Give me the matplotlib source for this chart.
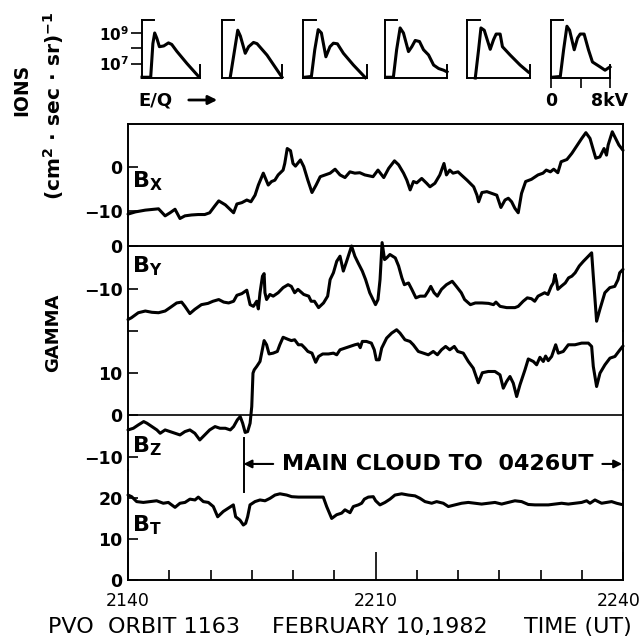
import numpy as np
import matplotlib
matplotlib.use('Agg')
import matplotlib.pyplot as plt
from matplotlib.ticker import NullLocator
from matplotlib.transforms import ScaledTranslation

plt.rcParams['font.family'] = 'DejaVu Sans'
plt.rcParams['mathtext.fontset'] = 'dejavusans'

# ── Campo magnético (gamma), minutos después de 2140 UT ──────────────────────
T_BX = [0.0, 0.9, 2.1, 3.7, 4.5, 5.1, 5.7, 6.3, 6.9, 7.7, 8.5, 9.3, 9.9, 10.5,
        11.0, 11.8, 12.8, 13.2, 13.8, 14.4, 14.9, 15.4, 15.8, 16.4, 17.0, 17.4,
        17.8, 18.2, 18.8, 19.0, 19.3, 19.7, 20.0, 20.3, 20.9, 21.3, 21.8, 22.3,
        22.8, 23.3, 23.9, 24.5, 25.1, 25.7, 26.3, 26.9, 27.5, 28.1, 28.7, 29.7,
        30.3, 31.0, 31.6, 32.3, 32.8, 33.4, 33.8, 34.2, 34.6, 35.0, 35.6, 36.2,
        36.6, 37.2, 37.8, 38.3, 38.6, 39.0, 39.4, 40.0, 40.4, 41.1, 41.9, 42.3,
        42.5, 42.9, 43.5, 44.1, 44.7, 45.2, 45.7, 46.1, 46.5, 46.9, 47.3, 47.7,
        48.2, 48.9, 49.7, 50.3, 50.7, 51.2, 51.6, 52.1, 52.5, 53.2, 53.8, 54.4,
        55.0, 55.5, 56.0, 56.4, 56.7, 57.2, 57.7, 58.0, 58.2, 58.7, 59.1, 59.5,
        60.0]
BX = [-10.7, -10.2, -9.8, -9.5, -11.1, -10.4, -9.6, -11.7, -11.1, -10.9, -10.8,
      -10.8, -10.4, -8.9, -7.7, -8.6, -10.4, -8.4, -8.1, -7.5, -7.9, -6.4, -4.1,
      -1.4, -4.1, -3.3, -3.0, -1.8, -0.7, 0.8, 4.2, 3.7, 0.8, 0.2, 1.6, 0.1,
      -3.0, -5.8, -4.1, -2.2, -1.8, -1.4, -0.5, -1.8, -2.4, -1.1, -1.4, -1.3,
      -1.8, -2.2, -0.7, -2.4, -0.3, 1.4, 0.5, -1.4, -3.0, -5.2, -3.3, -3.6,
      -2.6, -3.7, -4.5, -3.7, -1.8, 0.8, -1.8, -0.7, -1.4, -1.1, -1.8, -3.0,
      -4.5, -6.4, -7.9, -5.8, -5.6, -6.0, -6.4, -9.2, -7.5, -7.1, -7.9, -9.4,
      -10.4, -6.0, -3.3, -2.8, -1.8, -1.4, -0.7, -1.1, -0.5, -1.3, 1.2, 1.7,
      3.1, 4.8, 6.5, 7.8, 6.5, 3.9, 2.0, 2.3, 4.2, 2.7, 5.0, 8.0, 6.5, 5.0,
      3.8]

T_BY = [0.0, 0.4, 1.25, 2.1, 2.9, 3.7, 4.5, 5.1, 5.9, 6.5, 6.9, 7.5, 8.1, 8.9,
        9.7, 10.3, 11.0, 11.6, 12.2, 12.8, 13.2, 13.8, 14.4, 14.8, 15.2, 15.6,
        15.8, 16.0, 16.3, 16.5, 16.6, 16.8, 17.2, 17.6, 18.2, 18.8, 19.4, 19.8,
        20.2, 20.6, 21.3, 21.9, 22.2, 22.6, 23.1, 23.7, 24.2, 24.5, 24.9, 25.3,
        25.7, 26.1, 26.5, 27.1, 27.5, 27.9, 28.4, 28.8, 29.3, 29.7, 30.0, 30.3,
        30.55, 30.8, 31.1, 31.35, 31.75, 32.4, 32.8, 33.2, 33.5, 34.0, 34.4,
        34.9, 35.4, 36.0, 36.4, 36.7, 37.1, 37.5, 38.0, 38.6, 39.3, 39.8, 40.4,
        40.8, 41.5, 42.1, 42.9, 43.7, 44.3, 44.6, 45.1, 45.9, 46.9, 47.3, 47.9,
        48.4, 48.9, 49.3, 49.7, 50.1, 50.5, 50.9, 51.3, 51.55, 51.75, 51.95,
        52.1, 52.5, 53.0, 53.4, 53.8, 54.2, 54.7, 55.2, 55.8, 56.2, 56.4, 56.8,
        57.2, 57.8, 58.4, 59.0, 59.4, 59.6, 60.0]
BY = [-17.3, -16.9, -15.7, -15.3, -15.6, -15.7, -15.3, -14.5, -13.4, -13.2,
      -14.2, -15.9, -14.9, -13.8, -13.5, -13.0, -12.6, -13.2, -13.4, -13.0,
      -11.6, -11.2, -10.4, -13.8, -14.2, -13.0, -14.8, -11.0, -7.1, -6.5, -11.0,
      -12.6, -11.4, -11.8, -11.0, -9.8, -9.1, -9.5, -11.0, -10.2, -11.4, -11.8,
      -13.0, -13.0, -14.5, -13.4, -11.8, -7.9, -6.3, -3.6, -2.4, -5.9, -3.6,
      0.0, -2.4, -4.0, -5.9, -7.9, -11.0, -12.6, -13.8, -12.6, -7.9, 0.8, -3.2,
      -2.8, -2.0, -2.8, -4.7, -7.5, -9.1, -8.7, -10.2, -12.2, -11.8, -11.8,
      -10.6, -9.5, -11.0, -11.8, -10.2, -9.1, -8.3, -9.5, -11.0, -12.6, -13.8,
      -13.4, -13.4, -13.5, -13.8, -13.2, -14.2, -14.5, -14.5, -14.2, -13.0,
      -12.2, -12.4, -13.0, -11.8, -11.4, -11.0, -11.4, -9.5, -8.7, -6.7, -8.3,
      -10.2, -9.5, -8.7, -7.5, -7.1, -6.3, -4.7, -3.6, -2.4, -1.6, -7.1, -17.7,
      -14.9, -11.0, -9.8, -9.5, -7.9, -6.3, -5.5]

T_BZ = [0.0, 0.65, 1.25, 1.9, 2.3, 2.9, 3.5, 3.9, 4.5, 5.1, 5.7, 6.3, 6.9, 7.5,
        8.1, 8.7, 9.3, 9.9, 10.55, 11.15, 11.8, 12.4, 12.8, 13.25, 13.6, 13.9,
        14.2, 14.5, 14.8, 15.0, 15.15, 15.3, 15.6, 16.0, 16.2, 16.5, 16.8, 17.1,
        17.6, 18.1, 18.4, 18.8, 19.4, 19.8, 20.2, 20.65, 21.05, 21.45, 21.8,
        22.3, 22.75, 23.1, 23.6, 24.3, 24.9, 25.3, 25.7, 26.3, 26.9, 27.5, 27.9,
        28.15, 28.4, 28.9, 29.5, 29.85, 30.1, 30.45, 30.75, 31.35, 31.96, 32.56,
        32.97, 33.57, 34.18, 34.58, 35.19, 35.8, 36.4, 37.0, 37.5, 38.0, 38.5,
        39.0, 39.55, 39.96, 40.64, 41.25, 41.85, 42.46, 42.95, 43.67, 44.48,
        45.09, 45.49, 45.89, 46.3, 46.7, 47.11, 47.51, 48.12, 48.52, 49.13,
        49.53, 49.93, 50.34, 50.62, 50.94, 51.35, 51.84, 52.16, 52.76, 53.37,
        54.18, 54.99, 55.8, 56.2, 56.4, 56.8, 57.21, 57.81, 58.42, 59.02, 59.63,
        60.0]
BZ = [-3.6, -3.2, -2.4, -1.6, -2.0, -2.8, -3.6, -4.4, -3.6, -4.0, -4.4, -4.8,
      -4.0, -3.6, -4.4, -6.0, -4.8, -3.6, -2.8, -3.2, -3.2, -3.6, -2.8, -1.2,
      -0.4, -2.0, -4.2, -4.0, -2.0, 2.0, 10.0, 10.8, 11.6, 12.8, 14.8, 17.8,
      16.8, 14.6, 14.8, 15.2, 16.8, 18.6, 18.1, 17.8, 18.0, 16.8, 16.8, 16.0,
      15.2, 14.8, 12.6, 14.0, 14.6, 14.6, 14.8, 14.4, 15.6, 16.0, 16.4, 16.8,
      17.0, 16.1, 17.6, 17.6, 17.2, 15.6, 13.2, 13.2, 16.0, 18.4, 19.6, 20.4,
      19.6, 18.0, 17.6, 16.8, 15.2, 14.8, 14.4, 15.2, 14.4, 15.6, 16.4, 15.6,
      16.4, 15.2, 14.8, 12.8, 11.2, 7.7, 10.1, 10.4, 10.4, 9.6, 6.4, 8.0, 9.2,
      7.6, 4.4, 7.2, 10.8, 13.4, 12.8, 12.0, 13.8, 12.8, 14.1, 13.0, 14.0,
      16.8, 14.8, 15.2, 16.8, 16.8, 17.2, 17.2, 16.4, 11.6, 6.8, 10.0, 12.0,
      13.6, 14.0, 15.6, 16.5]

T_BT = [0.0, 0.44, 1.05, 1.86, 2.67, 3.47, 4.28, 4.89, 5.7, 6.3, 6.91, 7.51,
        8.12, 8.52, 9.13, 9.74, 10.34, 10.87, 11.55, 12.16, 12.77, 13.05,
        13.57, 13.98, 14.26, 14.5, 14.79, 15.39, 16.0, 16.61, 17.21, 17.82,
        18.42, 19.23, 19.84, 20.65, 21.45, 22.26, 23.07, 23.67, 24.08, 24.69,
        25.29, 25.9, 26.3, 26.91, 27.31, 27.92, 28.32, 28.65, 29.13, 29.73,
        30.02, 30.54, 31.15, 31.76, 32.36, 33.17, 33.98, 34.79, 35.39, 36.0,
        36.81, 37.41, 38.22, 38.83, 39.63, 40.44, 41.25, 42.06, 42.86, 43.67,
        44.48, 45.29, 46.09, 46.9, 47.71, 48.52, 49.33, 50.14, 50.95, 51.75,
        52.56, 53.37, 54.18, 54.99, 55.59, 56.0, 56.6, 57.0, 57.41, 58.01,
        58.62, 59.23, 59.83]
BT = [20.7, 20.3, 19.1, 18.9, 19.1, 19.3, 18.7, 18.9, 17.7, 18.7, 18.9, 19.7,
      19.5, 20.2, 19.1, 18.9, 17.9, 15.4, 16.7, 17.5, 18.3, 15.4, 14.6, 13.4,
      13.8, 15.4, 18.3, 19.1, 19.5, 19.3, 19.9, 20.7, 21.0, 20.7, 20.3, 20.2,
      20.2, 20.2, 20.2, 20.2, 17.9, 15.0, 15.9, 16.3, 17.1, 16.4, 17.9, 18.3,
      18.7, 19.7, 20.2, 20.3, 19.3, 18.3, 18.9, 19.7, 20.7, 21.0, 20.7, 20.5,
      19.9, 19.1, 18.7, 19.1, 18.7, 17.9, 18.3, 18.7, 18.9, 18.7, 18.5, 18.7,
      18.9, 18.5, 18.9, 19.3, 19.1, 18.4, 18.3, 18.3, 18.3, 18.5, 18.7, 18.5,
      18.7, 18.9, 19.3, 18.7, 19.5, 19.1, 18.7, 18.9, 19.1, 18.7, 18.4]

CLOUD_START = 14.0          # inicio de la nube (min después de 2140)
TIME_TICKS = [0, 30, 60]
TIME_LABELS = ['2140', '2210', '2240']

# ── Espectros de iones: E/Q (kV) y log10 del flujo ──────────────────────────
SPEC_E = [
    [0, 1.2, 1.5, 1.75, 2.05, 2.4, 3.0, 3.65, 4.1, 4.8, 6.2, 7.8],
    [1.1, 2.1, 2.45, 3.1, 3.55, 4.2, 4.67, 6.0, 8.0],
    [0.2, 1.05, 1.47, 1.9, 2.3, 2.86, 3.37, 3.8, 4.3, 5.05, 6.3, 7.8],
    [0.13, 1.08, 1.5, 1.95, 2.38, 3.03, 3.46, 3.9, 4.45, 4.97, 5.62, 6.27,
     6.92, 7.57, 8.0],
    [1.05, 1.47, 1.77, 2.19, 2.95, 3.37, 3.7, 4.21, 4.5, 5.47, 6.74, 7.79],
    [0.13, 1.26, 1.71, 2.16, 2.52, 3.15, 3.6, 3.96, 4.49, 5.08, 5.62, 6.65,
     7.33, 8.0],
]
SPEC_LOGF = [
    [6.1, 6.1, 8.3, 9.0, 8.65, 8.1, 8.15, 8.35, 8.25, 7.8, 7.0, 6.15],
    [6.1, 9.18, 8.8, 7.67, 8.1, 8.38, 8.3, 7.55, 6.1],
    [6.1, 6.15, 7.9, 9.22, 9.0, 7.44, 8.1, 8.33, 8.29, 7.67, 6.9, 6.07],
    [6.1, 6.1, 7.9, 9.33, 9.0, 7.78, 8.1, 8.51, 8.44, 7.9, 7.56, 6.9, 6.67,
     6.56, 6.45],
    [6.05, 7.9, 9.33, 9.18, 7.93, 8.56, 8.93, 8.93, 8.1, 7.56, 6.9, 6.44],
    [6.1, 6.15, 7.9, 9.44, 9.18, 7.9, 8.67, 8.93, 8.93, 7.9, 7.1, 6.78, 6.56,
     6.78],
]
SPEC_X = [(142, 200), (222, 282), (303, 367), (385, 447), (467, 530), (551, 610)]

W, H = 642, 641
LW_DATA = 2.2
LW_FRAME = 1.4

fig = plt.figure(figsize=(W / 100, H / 100), dpi=100)


def px_axes(x0, y0, x1, y1):
    """Crea ejes a partir de una caja en píxeles (origen arriba-izquierda)."""
    return fig.add_axes([x0 / W, 1 - y1 / H, (x1 - x0) / W, (y1 - y0) / H])


# ── Paneles del campo ────────────────────────────────────────────────────────
ax_bx = px_axes(128, 124, 623, 246)
ax_by = px_axes(128, 246, 623, 331)
ax_bz = px_axes(128, 331, 623, 470)
ax_bt = px_axes(128, 470, 623, 580)

panels = [
    (ax_bx, T_BX, BX, (-17.95, 9.77), [0, -10], ['0', '\u221210'],
     r'$\mathbf{B}_{\mathbf{X}}$', 0.48, ('top', 'bottom')),
    (ax_by, T_BY, BY, (-20, 0), [0, -10, -20], ['0', '\u221210', ''],
     r'$\mathbf{B}_{\mathbf{Y}}$', 0.69, ()),
    (ax_bz, T_BZ, BZ, (-13.2, 20.1), [10, 0, -10], ['10', '0', '\u221210'],
     r'$\mathbf{B}_{\mathbf{Z}}$', 0.13, ()),
    (ax_bt, T_BT, BT, (0, 26.8), [0, 10, 20], ['0', '10', '20'],
     r'$\mathbf{B}_{\mathbf{T}}$', 0.44, ('bottom',)),
]

for ax, t, b, ylim, yt, ytl, name, name_y, hspines in panels:
    ax.plot(t, b, color='k', lw=LW_DATA, solid_joinstyle='round',
            solid_capstyle='round', clip_on=False)
    ax.set_xlim(0, 60)
    ax.set_ylim(*ylim)
    ax.set_facecolor('none')
    for side in ('top', 'bottom'):
        ax.spines[side].set_visible(side in hspines)
    for sp in ax.spines.values():
        sp.set_linewidth(LW_FRAME)
    ax.set_yticks(yt, ytl)
    ax.tick_params(axis='y', direction='in', length=7, width=1.2,
                   labelsize=12.5, pad=4)
    for lab in ax.get_yticklabels():
        lab.set_fontweight('bold')
    ax.tick_params(axis='x', bottom=False, labelbottom=False)
    ax.text(0.008, name_y, name, transform=ax.transAxes, fontsize=16,
            va='baseline', ha='left')

ax_bz.axhline(0, color='k', lw=1.2)

# eje temporal
ax_bt.set_xticks(TIME_TICKS, TIME_LABELS)
ax_bt.set_xticks(np.arange(0, 61, 5), minor=True)
ax_bt.tick_params(axis='x', which='major', bottom=True, labelbottom=True,
                  direction='in', length=20, width=1.2, labelsize=12.5, pad=9)
ax_bt.tick_params(axis='x', which='minor', bottom=True, direction='in',
                  length=7, width=1.2)
last = ax_bt.get_xticklabels()[-1]
last.set_transform(last.get_transform()
                   + ScaledTranslation(-4 / 100, 0, fig.dpi_scale_trans))

# nube principal
ax_bz.axvline(CLOUD_START, ymin=0, ymax=0.23, color='k', lw=1.4)
ax_bt.axvline(CLOUD_START, ymin=0.8, ymax=1, color='k', lw=1.4)
y_arr = -11.75
ax_bz.text(37.6, y_arr, 'MAIN CLOUD TO  0426UT', ha='center', va='center',
           fontsize=16, fontweight='bold')
arrow = dict(arrowstyle='-|>', color='k', lw=1.5, mutation_scale=12,
             shrinkA=0, shrinkB=0)
ax_bz.annotate('', xy=(CLOUD_START, y_arr), xytext=(17.6, y_arr),
               arrowprops=arrow)
ax_bz.annotate('', xy=(59.9, y_arr), xytext=(57.5, y_arr), arrowprops=arrow)

# ── Espectros de iones ───────────────────────────────────────────────────────
for i, ((x0, x1), e, lf) in enumerate(zip(SPEC_X, SPEC_E, SPEC_LOGF)):
    ax = px_axes(x0, 20, x1, 78)
    ax.set_yscale('log')
    ax.plot(e, 10.0 ** np.array(lf), color='k', lw=2.2,
            solid_joinstyle='round', clip_on=False)
    ax.set_xlim(0, 8)
    ax.set_ylim(10 ** 6.05, 10 ** 9.85)
    ax.set_facecolor('none')
    ax.spines['top'].set_visible(False)
    ax.spines['right'].set_visible(False)
    ax.spines['left'].set_linewidth(LW_FRAME)
    ax.spines['bottom'].set_linewidth(LW_FRAME)
    ax.axhline(10 ** 9.85, xmin=0, xmax=0.2, color='k', lw=LW_FRAME,
               clip_on=False)
    ax.axvline(8, ymin=0, ymax=0.22, color='k', lw=LW_FRAME, clip_on=False)
    ax.yaxis.set_minor_locator(NullLocator())
    if i == 0:
        ax.set_yticks([1e7, 1e8, 1e9], [r'$\mathbf{10^7}$', '',
                                         r'$\mathbf{10^9}$'])
        ax.tick_params(axis='y', direction='out', length=8, width=1.2,
                       labelsize=11, pad=1)
    else:
        ax.set_yticks([])
    if i == len(SPEC_X) - 1:
        ax.set_xticks([0, 4, 8], ['0', '', '8kV'])
        ax.tick_params(axis='x', direction='out', length=7, width=1.2,
                       labelsize=12.5, pad=3)
        for lab in ax.get_xticklabels():
            lab.set_fontweight('bold')
    else:
        ax.set_xticks([])

fig.text(138 / W, 1 - 100 / H, 'E/Q', fontsize=13, fontweight='bold',
         va='center', ha='left')
fig.add_artist(matplotlib.patches.FancyArrowPatch(
    (186 / W, 1 - 100 / H), (220 / W, 1 - 100 / H),
    transform=fig.transFigure, arrowstyle='-|>', mutation_scale=13,
    color='k', lw=2.0))

# ── Etiquetas de los ejes y pie ──────────────────────────────────────────────
fig.text(22 / W, 1 - 90 / H, 'IONS', rotation=90, fontsize=13.5,
         fontweight='bold', ha='center', va='center')
fig.text(54 / W, 1 - 106 / H,
         r'$\mathbf{(cm^{2}\,\cdot\,sec\,\cdot\,sr)^{-1}}$',
         rotation=90, fontsize=14.5, ha='center', va='center')
fig.text(53 / W, 1 - 333 / H, 'GAMMA', rotation=90, fontsize=13,
         fontweight='bold', ha='center', va='center')

fig.text(48 / W, 1 - 627 / H, 'PVO  ORBIT 1163', fontsize=16, va='center')
fig.text(272 / W, 1 - 627 / H, 'FEBRUARY 10,1982', fontsize=16, va='center')
fig.text(578 / W, 1 - 627 / H, 'TIME (UT)', fontsize=16, va='center',
         ha='center')

fig.savefig('out.png', dpi=100)
